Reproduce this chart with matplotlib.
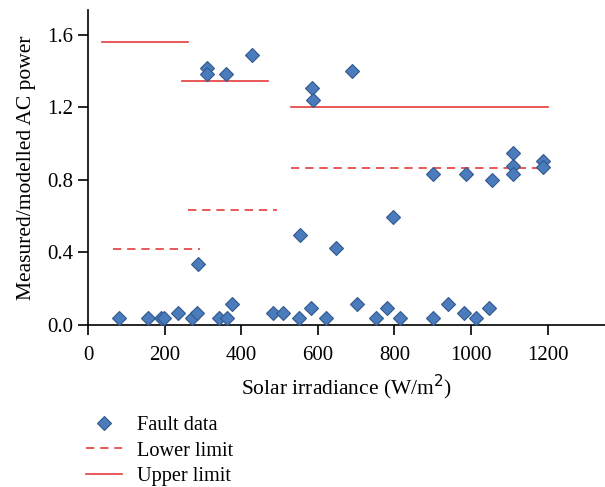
import numpy as np
import matplotlib
matplotlib.use("Agg")
import matplotlib.pyplot as plt

# Fault data
fault_x = [81, 157, 191, 199, 235, 272, 285, 342, 363, 376, 484, 510, 552, 583, 622,
           703, 753, 782, 816, 902, 939, 983, 1014, 1048,
           288, 311, 311, 361, 429, 554, 586, 588, 648, 690, 797, 902, 988, 1056,
           1111, 1111, 1111, 1187, 1187]
fault_y = [0.041, 0.041, 0.041, 0.041, 0.066, 0.041, 0.066, 0.041, 0.041, 0.118, 0.066,
           0.066, 0.041, 0.091, 0.041, 0.118, 0.041, 0.091, 0.041, 0.041, 0.118, 0.066,
           0.041, 0.091,
           0.339, 1.417, 1.383, 1.383, 1.488, 0.494, 1.306, 1.243, 0.422, 1.400, 0.593,
           0.831, 0.831, 0.798, 0.947, 0.875, 0.831, 0.903, 0.870]

# Limit segments: (x start, x end, value)
lower_x0 = [64, 262, 531]
lower_x1 = [293, 494, 1202]
lower_val = [0.417, 0.632, 0.864]
upper_x0 = [37, 246, 531]
upper_x1 = [262, 471, 1202]
upper_val = [1.560, 1.345, 1.201]

x_ticks = [0, 200, 400, 600, 800, 1000, 1200]
y_ticks = [0.0, 0.4, 0.8, 1.2, 1.6]

plt.rcParams['font.family'] = ['Liberation Serif', 'DejaVu Serif']

red = '#e63b3b'
blue = '#4a7bbd'
edge = '#33598c'

fig = plt.figure(figsize=(6.05, 4.87), dpi=100)
ax = fig.add_axes([88 / 605, 1 - 325 / 487, 1 - 88 / 605, 315 / 487])

for i in range(len(lower_val)):
    ax.plot([lower_x0[i], lower_x1[i]], [lower_val[i], lower_val[i]], color=red,
            lw=1.2, dashes=(5, 3.5), label='Lower limit' if i == 0 else None)
for i in range(len(upper_val)):
    ax.plot([upper_x0[i], upper_x1[i]], [upper_val[i], upper_val[i]], color=red,
            lw=1.2, label='Upper limit' if i == 0 else None)
ax.plot(fault_x, fault_y, linestyle='none', marker='D', markersize=7.3,
        markerfacecolor=blue, markeredgecolor=edge, markeredgewidth=0.8,
        label='Fault data', zorder=3)

ax.set_xlim(0, 1350)
ax.set_ylim(0, 1.737)
ax.set_xticks(x_ticks)
ax.set_yticks(y_ticks)
ax.set_yticklabels([f"{v:.1f}" for v in y_ticks])
ax.spines['top'].set_visible(False)
ax.spines['right'].set_visible(False)
ax.spines['left'].set_linewidth(1.2)
ax.spines['bottom'].set_linewidth(1.2)
ax.tick_params(axis='both', direction='out', length=7, width=1.2, labelsize=15)
ax.tick_params(axis='x', pad=8)
ax.set_xlabel('Solar irradiance (W/m$^2$)', fontsize=15.5, labelpad=6)
ax.set_ylabel('Measured/modelled AC power', fontsize=15.5, labelpad=8)

handles, labels = ax.get_legend_handles_labels()
order = [labels.index('Fault data'), labels.index('Lower limit'), labels.index('Upper limit')]
fig.legend([handles[i] for i in order], [labels[i] for i in order],
           loc='upper left', bbox_to_anchor=(78 / 605, 1 - 408 / 487), frameon=False,
           fontsize=14.6, handlelength=1.75, labelspacing=0.3, handletextpad=0.75,
           borderaxespad=0)

fig.savefig('out.png', dpi=100)
